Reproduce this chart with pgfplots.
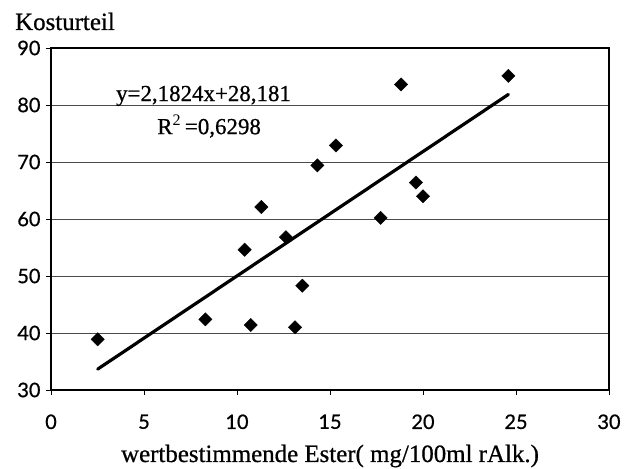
\documentclass[border=0pt]{standalone}
\usepackage{fontspec}
\setmainfont{Liberation Serif}
\newfontfamily\labfont{Liberation Serif}[FakeBold=0.7]
\newfontfamily\ticksfont{Lato}[FakeBold=0.8]
\usepackage{pgfplots}
\pgfplotsset{compat=1.18}
\begin{document}
\begin{tikzpicture}
\begin{axis}[
  scale only axis,
  width=558bp, height=342bp,
  xmin=0, xmax=30, ymin=30, ymax=90,
  xtick={0,5,...,30}, ytick={30,40,...,90},
  /pgf/number format/assume math mode=true,
  tick label style={font=\ticksfont\fontsize{20}{20}\selectfont, black},
  xticklabel style={yshift=-16bp},
  yticklabel style={xshift=-2bp},
  tick align=outside,
  major tick length=5bp,
  tick style={black, line width=0.9pt},
  xtick pos=bottom, ytick pos=left,
  ymajorgrids,
  grid style={black!70, line width=0.9pt},
  axis line style={black, line width=1.5pt},
  clip=false,
]
\addplot[only marks, mark=square*, mark size=4.7bp, mark options={rotate=45, fill=black, draw=black}] coordinates {
(2.51,38.9) (8.30,42.4) (10.74,41.4) (13.12,41.0) (13.51,48.3)
(18.82,83.6) (24.59,85.1) (15.32,72.9) (14.32,69.4) (19.62,66.4)
(20.00,64.0) (17.72,60.2) (11.31,62.1) (10.41,54.6) (12.63,56.8)
};
\addplot[black, line width=3.2pt, line cap=round] coordinates {(2.51,33.66) (24.59,81.85)};
\node[font=\labfont\fontsize{23}{23}\selectfont] at (axis cs:8.2,81.6) {y=2,1824x+28,181};
\node[font=\labfont\fontsize{23}{23}\selectfont] at (axis cs:8.5,76.3) {R$^{\mathrm{2}}$\,=0,6298};
\node[font=\labfont\fontsize{25}{25}\selectfont, anchor=base west, inner sep=0pt] at ([xshift=-36bp,yshift=18bp]current axis.north west) {Kosturteil};
\node[font=\labfont\fontsize{25}{25}\selectfont, anchor=base, inner sep=0pt] at ([xshift=0bp,yshift=-72bp]current axis.south) {wertbestimmende Ester( mg/100ml rAlk.)};
\end{axis}
\pgfresetboundingbox
\path ([xshift=-51bp,yshift=-79bp]current axis.south west) rectangle ([xshift=19bp,yshift=48bp]current axis.north east);
\end{tikzpicture}
\end{document}
